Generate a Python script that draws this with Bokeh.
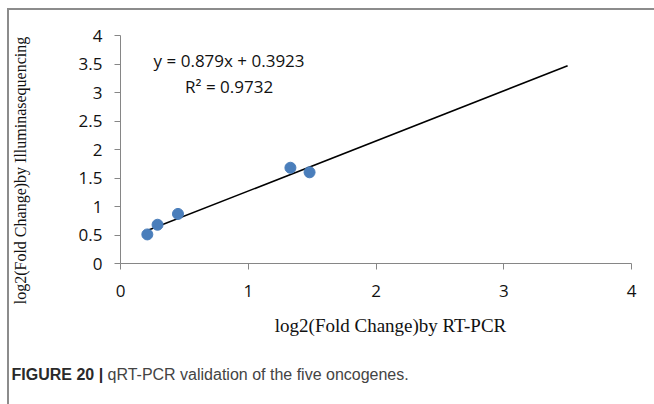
from bokeh.plotting import figure
from bokeh.models import Range1d, FixedTicker, Label, ColumnDataSource
from bokeh.embed import file_html
from bokeh.resources import INLINE
from math import pi

# ---- data ----
rt_pcr = [0.21, 0.29, 0.45, 1.33, 1.48]
illumina = [0.51, 0.68, 0.87, 1.68, 1.60]
slope = 0.879
intercept = 0.3923
trend_x = [0.21, 3.5]
x_ticks = [0, 1, 2, 3, 4]
x_tick_labels = ["0", "1", "2", "3", "4"]
y_ticks = [0, 0.5, 1, 1.5, 2, 2.5, 3, 3.5, 4]
y_tick_labels = ["0", "0.5", "1", "1.5", "2", "2.5", "3", "3.5", "4"]
eq_text = "y = 0.879x + 0.3923"
r2_text = "R\u00b2 = 0.9732"
x_title = "log2(Fold Change)by RT-PCR"
y_title = "log2(Fold Change)by Illuminasequencing"
cap_bold = "FIGURE 20 |"
cap_rest = "qRT-PCR validation of the five oncogenes."

trend_y = [slope * v + intercept for v in trend_x]

# ---- layout geometry (canvas pixels) ----
W, H = 654, 404
X0PX, X4PX = 120, 631      # where x=0 and x=4 sit
Y0PX, Y4PX = 263, 35       # where y=0 and y=4 sit
XS = (X4PX - X0PX) / 4.0
YS = (Y0PX - Y4PX) / 4.0


def dx(px):
    return (px - X0PX) / XS


def dy(py):
    return (Y0PX - py) / YS


p = figure(width=W, height=H, output_backend="svg", toolbar_location=None,
           x_range=Range1d(dx(0), dx(W)), y_range=Range1d(dy(H), dy(0)),
           min_border=0, min_border_left=0, min_border_right=0, min_border_top=0, min_border_bottom=0,
           styles={"background": "linear-gradient(#8c8c8c,#8c8c8c) 7px 8px / 2px 396px no-repeat, "
                                 "linear-gradient(#8c8c8c,#8c8c8c) 7px 8px / 647px 2px no-repeat, white"})
p.border_fill_color = None
p.background_fill_color = None
p.outline_line_color = None
p.grid.visible = False

gray = "#868686"
for ax in (p.xaxis[0], p.yaxis[0]):
    ax.fixed_location = 0
    ax.bounds = (0, 4)
    ax.axis_line_color = gray
    ax.major_tick_line_color = gray
    ax.minor_tick_line_color = None
    ax.major_tick_out = 6
    ax.major_tick_in = 0
    ax.major_label_text_font = "Open Sans"
    ax.major_label_text_font_size = "17px"
    ax.major_label_text_color = "#111111"

xa = p.xaxis[0]
xa.ticker = FixedTicker(ticks=x_ticks)
xa.major_label_overrides = {float(t): l for t, l in zip(x_ticks, x_tick_labels)}
xa.major_label_standoff = 15

ya = p.yaxis[0]
ya.ticker = FixedTicker(ticks=y_ticks)
ya.major_label_overrides = {float(t): l for t, l in zip(y_ticks, y_tick_labels)}
ya.major_label_standoff = 12

src = ColumnDataSource(dict(x=rt_pcr, y=illumina))
p.line(trend_x, trend_y, line_color="black", line_width=1.6)
p.scatter("x", "y", source=src, size=11, fill_color="#4a7ebb", line_color="#4a7ebb")

p.add_layout(Label(x=0.85, y=3.56, text=eq_text, text_align="center", text_baseline="middle",
                   text_font="Open Sans", text_font_size="17px", text_color="#111111"))
p.add_layout(Label(x=0.85, y=3.10, text=r2_text, text_align="center", text_baseline="middle",
                   text_font="Open Sans", text_font_size="17px", text_color="#111111"))

# axis titles and caption
p.add_layout(Label(x=dx(390), y=dy(325), text=x_title,
                   text_align="center", text_baseline="middle",
                   text_font="Liberation Serif", text_font_size="19px", text_color="#111111"))
p.add_layout(Label(x=dx(20), y=dy(170), text=y_title, angle=pi / 2,
                   text_align="center", text_baseline="middle",
                   text_font="Liberation Serif", text_font_size="16px", text_color="#111111"))
p.add_layout(Label(x=dx(11), y=dy(374), text=cap_bold,
                   text_align="left", text_baseline="middle", text_font_style="bold",
                   text_font="Liberation Sans", text_font_size="16px", text_color="#2a2a2a"))
p.add_layout(Label(x=dx(11 + 96), y=dy(374), text=cap_rest,
                   text_align="left", text_baseline="middle",
                   text_font="Liberation Sans", text_font_size="16px", text_color="#444444"))

open("out.html", "w").write(file_html(p, INLINE))
